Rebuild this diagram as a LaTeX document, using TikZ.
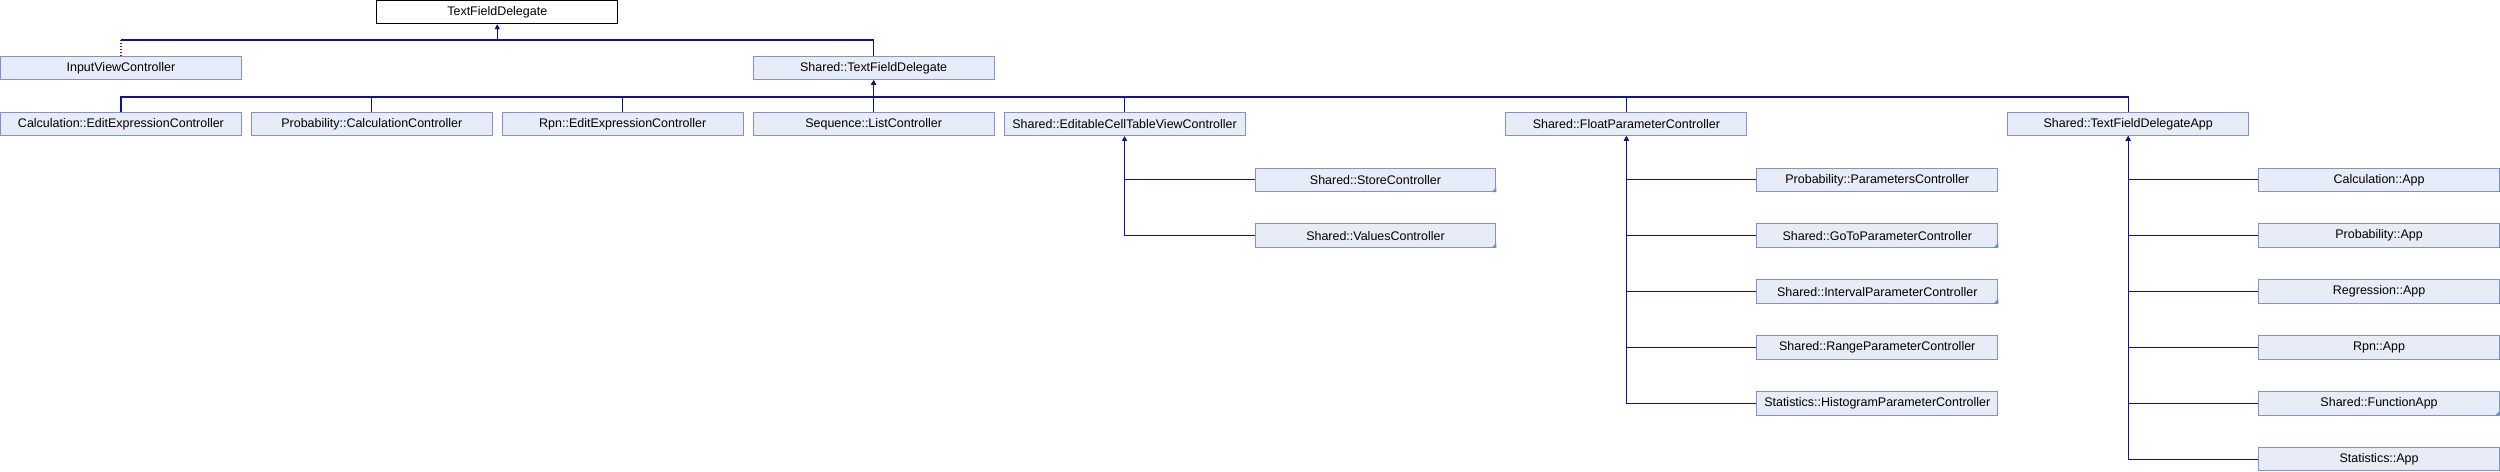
\documentclass[tikz,border=0pt]{standalone}
\usepackage{fontspec}
\setmainfont{Liberation Sans}
\usepackage{tikz}
\usetikzlibrary{
  arrows.meta,
  calc
}
\definecolor{edgecolor}{RGB}{16, 16, 150}
\definecolor{privcolor}{RGB}{150, 20, 20}
\definecolor{boxfill}{RGB}{232, 236, 246}
\definecolor{boxdraw}{RGB}{125, 146, 210}
\definecolor{markcolor}{RGB}{120, 140, 205}
\tikzset{
classtext/.style={
  align=center,
  font=\fontsize{7.1}{8}\selectfont,
  text=black
},
classbox/.style={
  draw=boxdraw,
  fill=boxfill,
  line width=0.55pt,
  anchor=north west,
  inner sep=0pt,
  minimum height=0.47cm,
  minimum width=4.82cm,
  classtext
},
rootbox/.style={
  classbox,
  draw=black,
  fill=white
},
edge/.style={
  -{Triangle[length=2.6pt,width=2.6pt]},
  line width=0.65pt,
  draw=edgecolor
},
plainedge/.style={
  line width=0.65pt,
  draw=edgecolor
},
privedge/.style={
  line width=0.65pt,
  draw=privcolor,
  densely dotted
}
}
\newcommand{\cornermark}[1]{\fill[markcolor] (#1.south east) -- ++(-5,0) -- ++(5,-5) -- cycle;}

\begin{document}
\begin{tikzpicture}[x=0.02cm, y=-0.02cm]
        \useasboundingbox (0,0) rectangle (2500,472);

        % root and first level
        \node[rootbox] (tfd) at (376.3, 0) {TextFieldDelegate};
        \node[classbox] (inputvc) at (0, 55.9) {InputViewController};
        \node[classbox] (sharedtfd) at (752.7, 55.9) {Shared::TextFieldDelegate};

        % second level
        \node[classbox] (calcedit) at (0, 111.8) {Calculation::EditExpressionController};
        \node[classbox] (probcalc) at (250.9, 111.8) {Probability::CalculationController};
        \node[classbox] (rpnedit) at (501.8, 111.8) {Rpn::EditExpressionController};
        \node[classbox] (seqlist) at (752.7, 111.8) {Sequence::ListController};
        \node[classbox] (editable) at (1003.6, 111.8) {Shared::EditableCellTableViewController};
        \node[classbox] (floatparam) at (1505.4, 111.8) {Shared::FloatParameterController};
        \node[classbox] (tfdapp) at (2007.2, 111.8) {Shared::TextFieldDelegateApp};

        % children of the editable table view
        \node[classbox] (store) at (1254.5, 167.6) {Shared::StoreController};
        \node[classbox] (values) at (1254.5, 223.5) {Shared::ValuesController};

        % children of the float parameter controller
        \node[classbox] (probparams) at (1756.3, 167.6) {Probability::ParametersController};
        \node[classbox] (gotoparam) at (1756.3, 223.5) {Shared::GoToParameterController};
        \node[classbox] (intervalparam) at (1756.3, 279.4) {Shared::IntervalParameterController};
        \node[classbox] (rangeparam) at (1756.3, 335.3) {Shared::RangeParameterController};
        \node[classbox] (histparam) at (1756.3, 391.1) {Statistics::HistogramParameterController};

        % children of the app
        \node[classbox] (calcapp) at (2258.1, 167.6) {Calculation::App};
        \node[classbox] (probapp) at (2258.1, 223.5) {Probability::App};
        \node[classbox] (regapp) at (2258.1, 279.4) {Regression::App};
        \node[classbox] (rpnapp) at (2258.1, 335.3) {Rpn::App};
        \node[classbox] (funcapp) at (2258.1, 391.1) {Shared::FunctionApp};
        \node[classbox] (statapp) at (2258.1, 447) {Statistics::App};

        \cornermark{store}
        \cornermark{values}
        \cornermark{gotoparam}
        \cornermark{intervalparam}
        \cornermark{funcapp}

        % buses
        \coordinate (bus1) at (0, 40);
        \coordinate (bus2) at (0, 97);

        \draw[privedge] (inputvc.north) -- (inputvc.north |- bus1);
        \draw[edge] (inputvc.north |- bus1) -| (tfd.south);
        \draw[edge] (sharedtfd.north) -- (sharedtfd.north |- bus1) -| (tfd.south);

        \foreach \kid in {calcedit, probcalc, rpnedit, seqlist, editable, floatparam, tfdapp}
          \draw[edge] (\kid.north) -- (\kid.north |- bus2) -| (sharedtfd.south);

        \foreach \kid in {store, values}
          \draw[edge] (\kid.west) -| (editable.south);
        \foreach \kid in {probparams, gotoparam, intervalparam, rangeparam, histparam}
          \draw[edge] (\kid.west) -| (floatparam.south);
        \foreach \kid in {calcapp, probapp, regapp, rpnapp, funcapp, statapp}
          \draw[edge] (\kid.west) -| (tfdapp.south);
      \end{tikzpicture}
\end{document}
